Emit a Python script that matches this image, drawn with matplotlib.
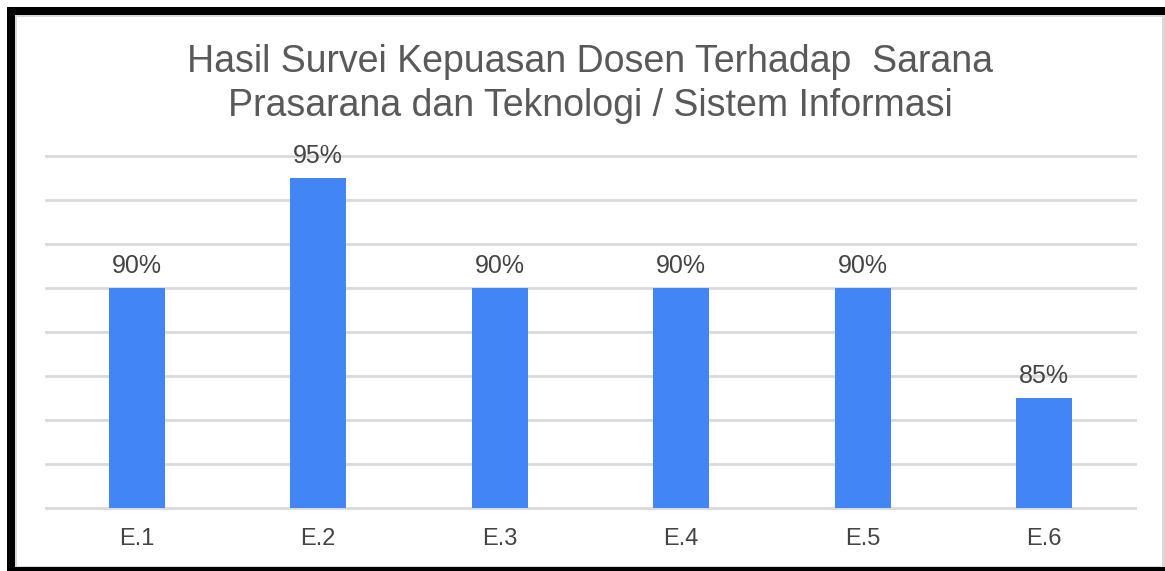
import matplotlib
matplotlib.use("Agg")
import matplotlib.pyplot as plt
from matplotlib.patches import Rectangle

categories = ["E.1", "E.2", "E.3", "E.4", "E.5", "E.6"]
values = [90, 95, 90, 90, 90, 85]
labels = ["90%", "95%", "90%", "90%", "90%", "85%"]
title = "Hasil Survei Kepuasan Dosen Terhadap  Sarana\nPrasarana dan Teknologi / Sistem Informasi"

W, H = 1165, 571
plt.rcParams['font.family'] = ['Liberation Sans', 'DejaVu Sans']
fig = plt.figure(figsize=(W/100, H/100), dpi=100)

def px(x0, y0, w, h, color):
    fig.patches.append(Rectangle((x0/W, 1-(y0+h)/H), w/W, h/H, transform=fig.transFigure,
                                 facecolor=color, edgecolor='none', zorder=-5))

# frame
px(15, 15, 1150, 552, '#d9d9d9')
px(17, 17, 1145, 549, 'white')
px(7, 7, 1158, 8, 'black')
px(7, 7, 8, 564, 'black')
px(7, 567, 1158, 4, 'black')

ax = fig.add_axes([46/W, 63/H, (1135-46)/W, (508-156)/H])
ax.set_zorder(2)
ax.set_facecolor('none')
x = range(len(categories))
ax.bar(x, values, width=0.31, color='#4285F4', zorder=3, bottom=0)
ax.set_ylim(80, 96)
ax.set_xlim(-0.5, 5.5)
ax.set_yticks(range(80, 97, 2))
ax.yaxis.grid(True, color='#d9d9d9', linewidth=2)
for gl in ax.get_ygridlines():
    gl.set_clip_on(False)
ax.set_axisbelow(True)
ax.tick_params(axis='y', left=False, labelleft=False)
ax.tick_params(axis='x', bottom=False, labelsize=17, labelcolor='#444444', pad=11)
ax.set_xticks(list(x))
ax.set_xticklabels(categories)
for s in ax.spines.values():
    s.set_visible(False)
for xi, v, lab in zip(x, values, labels):
    ax.annotate(lab, (xi, v), xytext=(0, 7), textcoords='offset points', ha='center', va='bottom',
                fontsize=18, color='#444444')

fig.text(590/W, 1-84/H, title, ha='center', va='center', fontsize=27, color='#595959',
         linespacing=1.27, zorder=3)

fig.savefig('out.png', dpi=100)
